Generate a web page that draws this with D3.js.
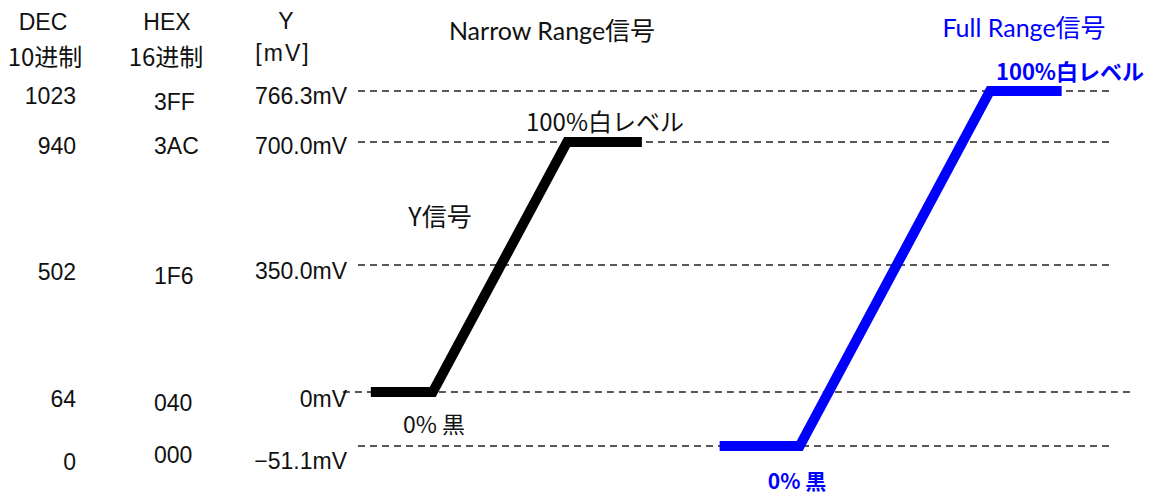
<!DOCTYPE html>
<html>
<head>
<meta charset="utf-8">
<script src="https://cdn.jsdelivr.net/npm/d3@7"></script>
<style>
  html, body { margin: 0; padding: 0; background: #fff; }
  svg { display: block; }
</style>
</head>
<body>
<svg id="chart" width="1159" height="496"></svg>
<script>
// ---- data ----
const decLabels = ["1023", "940", "502", "64", "0"];
const hexLabels = ["3FF", "3AC", "1F6", "040", "000"];
const mvValues  = [766.3, 700.0, 350.0, 0, -51.1];
const mvLabels  = ["766.3mV", "700.0mV", "350.0mV", "0mV", "−51.1mV"];

// Narrow range (black) signal: time units vs mV
const narrowT  = [1.7, 9.9, 27.7, 37.6];
const narrowMv = [0, 0, 700, 700];
// Full range (blue) signal
const fullT  = [47.9, 58.5, 83.7, 93.2];
const fullMv = [-51.1, -51.1, 766.3, 766.3];

// ---- layout ----
const svg = d3.select("#chart");
const x = d3.scaleLinear().domain([0, 100]).range([358, 1113]);
// schematic (piecewise) level scale
const y = d3.scaleLinear()
  .domain([-51.1, 0, 350, 700, 766.3])
  .range([446, 392, 265, 142, 91]);

const labelFont = "'Liberation Sans', Arial, 'Noto Sans CJK JP', sans-serif";
const cjkFont = "'Noto Sans CJK JP', 'Noto Sans', sans-serif";
const titleFont = "Lato, 'Noto Sans CJK JP', sans-serif";

// dashed reference lines
mvValues.forEach(v => {
  const x0 = v === 0 ? x(-2) : x(0);
  const x1 = v === 0 ? x(102.6) : x(100);
  svg.append("line")
    .attr("x1", x0).attr("x2", x1)
    .attr("y1", y(v)).attr("y2", y(v))
    .attr("stroke", "#222").attr("stroke-width", 1.4)
    .attr("stroke-dasharray", "7,5");
});

function txt(xp, yp, s, opts) {
  return svg.append("text").attr("x", xp).attr("y", yp)
    .attr("dominant-baseline", "central")
    .attr("text-anchor", opts.anchor || "middle")
    .attr("font-family", opts.font || cjkFont)
    .attr("font-size", opts.size || 20)
    .attr("font-weight", opts.weight || "normal")
    .attr("letter-spacing", opts.ls || 0)
    .attr("fill", opts.fill || "#111")
    .text(s);
}

// headers
txt(43, 22, "DEC", {font: labelFont, size: 23});
txt(45, 55, "10进制", {size: 24});
txt(167, 22, "HEX", {font: labelFont, size: 23});
txt(166, 55, "16进制", {size: 24});
txt(286, 21, "Y", {font: labelFont, size: 23});
txt(283, 53, "[mV]", {font: labelFont, size: 23, ls: 2});

// row labels
const rowOffsetDec = [5, 4, 7, 7, 16];
const rowOffsetHex = [11, 4, 11, 11, 9];
const rowOffsetMv  = [5, 4, 6, 7, 15];
mvValues.forEach((v, i) => {
  txt(76, y(v) + rowOffsetDec[i], decLabels[i], {font: labelFont, size: 23, anchor: "end"});
  txt(154, y(v) + rowOffsetHex[i], hexLabels[i], {font: labelFont, size: 23, anchor: "start"});
  txt(347, y(v) + rowOffsetMv[i], mvLabels[i], {font: labelFont, size: 23, anchor: "end"});
});

// signal lines
const line = d3.line().x(d => x(d[0])).y(d => y(d[1]));
svg.append("path")
  .datum(narrowT.map((t, i) => [t, narrowMv[i]]))
  .attr("d", line).attr("fill", "none").attr("stroke", "#000")
  .attr("stroke-width", 10).attr("stroke-linejoin", "miter").attr("stroke-linecap", "butt");
svg.append("path")
  .datum(fullT.map((t, i) => [t, fullMv[i]]))
  .attr("d", line).attr("fill", "none").attr("stroke", "#0000ff")
  .attr("stroke-width", 10).attr("stroke-linejoin", "miter").attr("stroke-linecap", "butt");

// annotations
txt(552, 30, "Narrow Range信号", {font: titleFont, size: 25});
txt(1024, 27, "Full Range信号", {font: titleFont, size: 25, fill: "#0000ff"});
txt(605, 120, "100%白レベル", {size: 24});
txt(440, 215, "Y信号", {size: 25});
txt(434, 423, "0% 黒", {size: 23});
txt(1070, 70, "100%白レベル", {size: 22, weight: "bold", fill: "#0000ff"});
txt(797, 480, "0% 黒", {size: 21, weight: "bold", fill: "#0000ff"});
</script>
</body>
</html>
